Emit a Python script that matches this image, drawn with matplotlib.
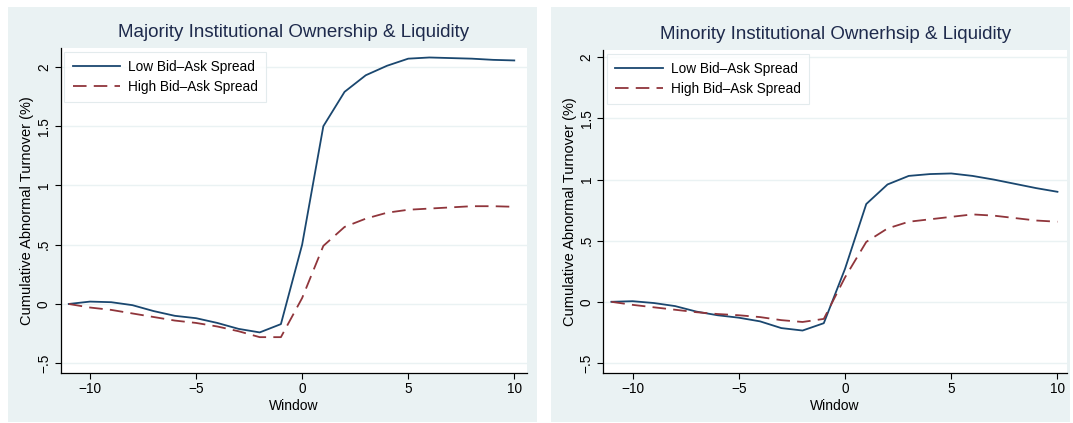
import matplotlib
matplotlib.use("Agg")
import matplotlib.pyplot as plt
from matplotlib.patches import Rectangle

plt.rcParams["font.family"] = ["Liberation Sans", "DejaVu Sans"]

# Event window (days)
window = [-11, -10, -9, -8, -7, -6, -5, -4, -3, -2, -1, 0, 1, 2, 3, 4, 5, 6, 7, 8, 9, 10]

# Majority institutional ownership
maj_low = [0.0, 0.02, 0.015, -0.01, -0.06, -0.10, -0.12, -0.16, -0.21, -0.24, -0.17,
           0.50, 1.50, 1.79, 1.93, 2.01, 2.07, 2.08, 2.075, 2.07, 2.06, 2.055]
maj_high = [0.0, -0.03, -0.05, -0.08, -0.11, -0.14, -0.16, -0.19, -0.23, -0.28, -0.28,
            0.05, 0.49, 0.65, 0.72, 0.77, 0.795, 0.805, 0.815, 0.825, 0.825, 0.82]

# Minority institutional ownership
min_low = [0.0, 0.005, -0.01, -0.035, -0.08, -0.11, -0.13, -0.16, -0.215, -0.235, -0.175,
           0.27, 0.80, 0.96, 1.03, 1.045, 1.05, 1.03, 1.00, 0.965, 0.93, 0.90]
min_high = [0.0, -0.025, -0.045, -0.065, -0.085, -0.10, -0.11, -0.125, -0.15, -0.165, -0.14,
            0.20, 0.49, 0.60, 0.655, 0.675, 0.695, 0.715, 0.705, 0.685, 0.665, 0.655]

titles = ["Majority Institutional Ownership & Liquidity",
          "Minority Institutional Ownerhsip & Liquidity"]
series_names = ["Low Bid\u2013Ask Spread", "High Bid\u2013Ask Spread"]
xticks = [-10, -5, 0, 5, 10]
xticklabels = ["\u221210", "\u22125", "0", "5", "10"]
yticks = [-0.5, 0, 0.5, 1, 1.5, 2]
yticklabels = ["\u2212.5", "0", ".5", "1", "1.5", "2"]

BG = "#EAF2F3"
NAVY = "#1A476F"
MAROON = "#90353B"
TITLE_C = "#1E2A4C"

W, H = 1073, 423
fig = plt.figure(figsize=(W / 100, H / 100), dpi=100)
fig.patch.set_facecolor("white")

# panel backgrounds (pixel boxes: x0, x1, y0_top, y1_bottom)
panels = [(8, 537, 7, 422), (551, 1070, 7, 422)]
for x0, x1, y0, y1 in panels:
    fig.patches.append(Rectangle((x0 / W, 1 - y1 / H), (x1 - x0) / W, (y1 - y0) / H,
                                 transform=fig.transFigure, facecolor=BG,
                                 edgecolor="none", zorder=-10))

# axes boxes in pixels (left, right, top, bottom)
boxes = [(60.7, 527, 48, 372.7), (603.3, 1067, 50, 372.7)]
ylims = [(-0.58, 2.16), (-0.58, 2.06)]
xlims = [(-11.38, 10.6), (-11.38, 10.45)]
data = [(maj_low, maj_high), (min_low, min_high)]

for i, (l, r, t, b) in enumerate(boxes):
    ax = fig.add_axes([l / W, 1 - b / H, (r - l) / W, (b - t) / H])
    ax.set_zorder(1)
    ax.set_facecolor("white")
    low, high = data[i]
    ax.plot(window, low, color=NAVY, lw=1.3, label=series_names[0], zorder=3)
    ax.plot(window, high, color=MAROON, lw=1.3, dashes=(7.5, 4),
            label=series_names[1], zorder=3)
    ax.set_xlim(*xlims[i])
    ax.set_ylim(*ylims[i])
    ax.set_xticks(xticks)
    ax.set_xticklabels(xticklabels, fontsize=9.8)
    ax.set_yticks(yticks)
    ax.set_yticklabels(yticklabels, fontsize=9.8, rotation=90, va="center")
    ax.yaxis.grid(True, color=BG, lw=1.0, zorder=0)
    ax.set_axisbelow(True)
    for s in ["top", "right"]:
        ax.spines[s].set_visible(False)
    for s in ["left", "bottom"]:
        ax.spines[s].set_color("black")
        ax.spines[s].set_linewidth(0.9)
    ax.tick_params(axis="both", length=4, width=0.8, color="black", pad=3,
                   labelcolor="black")
    ax.set_xlabel("Window", fontsize=10, labelpad=2)
    ax.set_ylabel("Cumulative Abnormal Turnover (%)", fontsize=10.5, labelpad=2)
    ax.set_title(titles[i], fontsize=13.5, color=TITLE_C, pad=8)
    leg = ax.legend(loc="upper left", bbox_to_anchor=(0.008, 0.988),
                    borderaxespad=0, fontsize=9.8, frameon=True, fancybox=False,
                    handlelength=3.5, handletextpad=0.6, labelspacing=0.45,
                    borderpad=0.6)
    leg.get_frame().set_edgecolor("#DDE7E9")
    leg.get_frame().set_linewidth(0.8)
    leg.get_frame().set_facecolor("white")

fig.savefig("out.png", dpi=100, facecolor=fig.get_facecolor())
